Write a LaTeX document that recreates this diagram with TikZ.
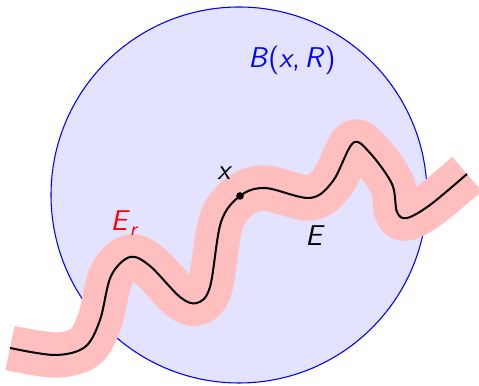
\documentclass[tikz,border=0pt]{standalone}
\begin{document}
\begin{tikzpicture}[x=0.42pt,y=-0.42pt,
  lbl/.style={font=\sffamily\large, inner sep=0pt},
  band/.style={line width=19pt, color=red!25, line cap=butt, line join=round},
  curveline/.style={line width=0.85pt, black, line join=round}]
\useasboundingbox (0,0) rectangle (479,386);
\def\mypath{plot[smooth, tension=0.55] coordinates {(10,348) (55,355) (85,347) (100,320) (111,276) (130,257) (150,266) (180,297) (197,303) (210,287) (221,222) (240,196) (265,188) (310,198) (333,181) (353,143) (370,153) (392,184) (397,212) (407,218) (430,205) (467,174)}}
\node[circle, draw=blue, fill=blue!11, line width=0.45pt, minimum size=376*0.42pt, inner sep=0pt] (ball) at (239,195) {};
\draw[band] \mypath;
\draw[curveline] \mypath;
\fill (240,196) circle (1.6pt);
\coordinate (xpt) at (240,196);
\node[lbl, text=blue] (blabel) at (292,60) {\textit{B}(\textit{x},\,\textit{R})};
\node[lbl, text=red] (erlabel) at (125,223) {\textit{E}\textsubscript{\textit{r}}};
\node[lbl] (xlabel) at (225,173) {\textit{x}};
\node[lbl] (elabel) at (315,236) {\textit{E}};
\end{tikzpicture}
\end{document}
